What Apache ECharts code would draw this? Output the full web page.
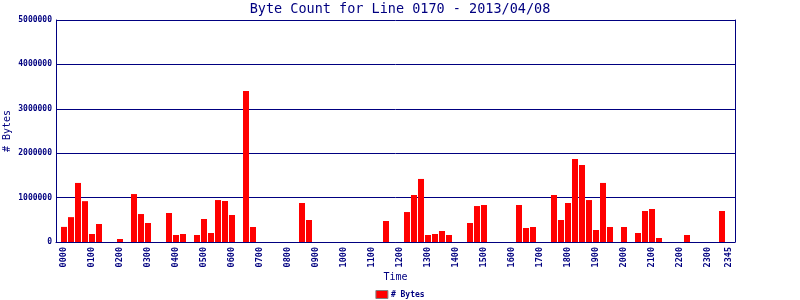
<!DOCTYPE html>
<html>
<head>
<meta charset="utf-8">
<script src="https://cdn.jsdelivr.net/npm/echarts@6/dist/echarts.min.js"></script>
<style>html,body{margin:0;padding:0;background:#fff}#c{width:800px;height:300px}</style>
</head>
<body>
<div id="c"></div>
<script>
var titleText = 'Byte Count for Line 0170 - 2013/04/08';
var seriesName = '# Bytes';
var xName = 'Time';
var yName = '# Bytes';
var times = [
 '0000','0015','0030','0045','0100','0115','0130','0145','0200','0215','0230','0245',
 '0300','0315','0330','0345','0400','0415','0430','0445','0500','0515','0530','0545',
 '0600','0615','0630','0645','0700','0715','0730','0745','0800','0815','0830','0845',
 '0900','0915','0930','0945','1000','1015','1030','1045','1100','1115','1130','1145',
 '1200','1215','1230','1245','1300','1315','1330','1345','1400','1415','1430','1445',
 '1500','1515','1530','1545','1600','1615','1630','1645','1700','1715','1730','1745',
 '1800','1815','1830','1845','1900','1915','1930','1945','2000','2015','2030','2045',
 '2100','2115','2130','2145','2200','2215','2230','2245','2300','2315','2330','2345'
];
var bytes = [
 340000, 560000, 1330000, 920000, 180000, 405000, 0, 0, 68000, 0, 1080000, 630000,
 428000, 0, 0, 653000, 158000, 180000, 0, 158000, 518000, 203000, 945000, 923000,
 608000, 0, 3400000, 338000, 0, 0, 0, 0, 0, 0, 878000, 495000,
 0, 0, 0, 0, 0, 0, 0, 0, 0, 0, 473000, 0,
 0, 675000, 1058000, 1420000, 158000, 180000, 248000, 158000, 0, 0, 428000, 810000,
 833000, 0, 0, 0, 0, 833000, 315000, 338000, 0, 0, 1058000, 495000,
 878000, 1870000, 1734000, 945000, 270000, 1330000, 338000, 0, 338000, 0, 203000, 698000,
 743000, 90000, 0, 0, 0, 158000, 0, 0, 0, 0, 698000, 0
];
var yMax = 5000000;
var yStep = 1000000;

var NAVY = '#000080';
var MONO = '"DejaVu Sans Mono", "Liberation Mono", monospace';
var chart = echarts.init(document.getElementById('c'), null, {renderer: 'canvas'});
chart.setOption({
  animation: false,
  backgroundColor: '#ffffff',
  title: {
    text: titleText, left: 'center', top: 2, padding: 0,
    textStyle: {color: NAVY, fontFamily: MONO, fontWeight: 'normal', fontSize: 13.5}
  },
  legend: {
    data: [seriesName], left: 'center', top: 290, padding: 0,
    itemWidth: 12, itemHeight: 8, itemGap: 0,
    icon: 'rect',
    itemStyle: {borderColor: '#808080', borderWidth: 1},
    textStyle: {color: NAVY, fontFamily: MONO, fontWeight: 'bold', fontSize: 8, padding: [0,0,0,-2]}
  },
  grid: [
    {left: 56, right: 65, top: 20, bottom: 58, containLabel: false, outerBoundsMode: 'none'},
    {left: 60.5, right: 67.5, top: 20, bottom: 58, containLabel: false, outerBoundsMode: 'none'}
  ],
  xAxis: [
    {gridIndex: 0, type: 'value', min: 0, max: 1,
     axisLine: {show: true, onZero: false, lineStyle: {color: NAVY, width: 1}},
     axisTick: {show: false}, axisLabel: {show: false}, splitLine: {show: false},
     name: xName, nameLocation: 'middle', nameGap: 30, nameMoveOverlap: false,
     nameTextStyle: {color: NAVY, fontFamily: MONO, fontSize: 10}},
    {gridIndex: 1, type: 'category', data: times, boundaryGap: true,
     axisLine: {show: false}, axisTick: {show: false}, splitLine: {show: false},
     axisLabel: {
       rotate: 90, margin: 5, color: NAVY, fontFamily: MONO, fontWeight: 'bold', fontSize: 8.5,
       interval: function (i) { return i % 4 === 0 || i === times.length - 1; }
     }}
  ],
  yAxis: [
    {gridIndex: 0, type: 'value', min: 0, max: yMax, interval: yStep, position: 'left',
     axisLine: {show: true, lineStyle: {color: NAVY, width: 1}},
     axisTick: {show: false},
     axisLabel: {margin: 4, color: NAVY, fontFamily: MONO, fontWeight: 'bold', fontSize: 8,
       formatter: function (v) { return String(v); }},
     splitLine: {show: true, lineStyle: {color: NAVY, width: 1}},
     name: yName, nameLocation: 'middle', nameGap: 44, nameRotate: 90, nameMoveOverlap: false,
     nameTextStyle: {color: NAVY, fontFamily: MONO, fontSize: 10}},
    {gridIndex: 0, type: 'value', min: 0, max: yMax, interval: yStep, position: 'right',
     axisLine: {show: true, lineStyle: {color: NAVY, width: 1}},
     axisTick: {show: false}, axisLabel: {show: false}, splitLine: {show: false}},
    {gridIndex: 1, type: 'value', min: 0, max: yMax, interval: yStep, show: false,
     splitLine: {show: false}}
  ],
  series: [{
    name: seriesName, type: 'bar', xAxisIndex: 1, yAxisIndex: 2,
    data: bytes, barWidth: 6, itemStyle: {color: '#ff0000'}, z: 5
  }]
});
</script>
</body>
</html>
